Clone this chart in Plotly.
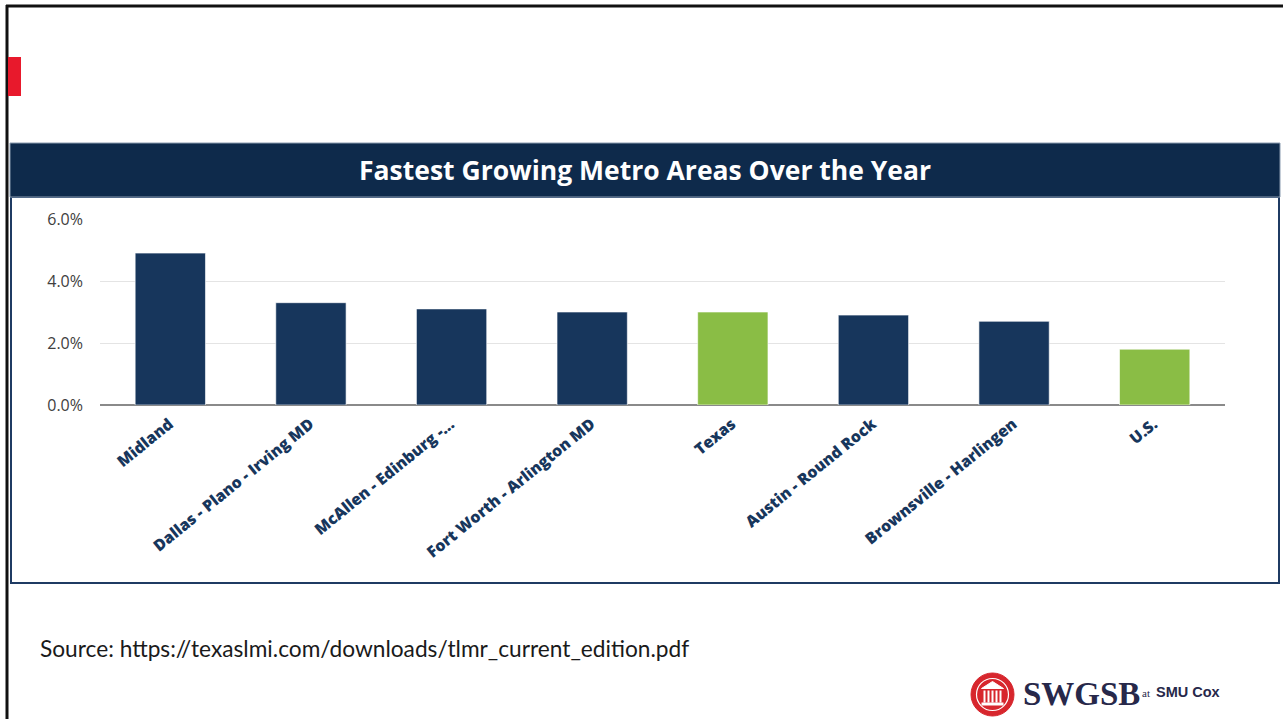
import plotly.graph_objects as go

# ---- data ----
categories = [
    "Midland",
    "Dallas - Plano - Irving MD",
    "McAllen - Edinburg -…",
    "Fort Worth - Arlington MD",
    "Texas",
    "Austin - Round Rock",
    "Brownsville - Harlingen",
    "U.S.",
]
growth_pct = [4.9, 3.3, 3.1, 3.0, 3.0, 2.9, 2.7, 1.8]
is_benchmark = [False, False, False, False, True, False, False, True]
y_tick_values = [0, 2, 4, 6]
y_tick_labels = ["0.0%", "2.0%", "4.0%", "6.0%"]
chart_title = "Fastest Growing Metro Areas Over the Year"
source_text = "Source: https://texaslmi.com/downloads/tlmr_current_edition.pdf"

NAVY = "#17365c"
GREEN = "#8abd45"
HEADER = "#0e2a4b"

W, H = 1283, 719
L, R, T, B = 100, 1225, 219, 405


def px(x):
    return (x - L) / (R - L)


def py(y):
    return (B - y) / (B - T)


bar_colors = [GREEN if b else NAVY for b in is_benchmark]

fig = go.Figure(
    go.Bar(
        x=categories,
        y=growth_pct,
        marker=dict(color=bar_colors, line=dict(color="rgba(255,255,255,0.6)", width=1)),
        width=0.5,
        hoverinfo="x+y",
    )
)

shapes = []
# slide border (top and left)
shapes.append(dict(type="line", xref="paper", yref="paper", x0=px(6), x1=px(W + 5), y0=py(6), y1=py(6),
                   line=dict(color="#111111", width=3)))
shapes.append(dict(type="line", xref="paper", yref="paper", x0=px(7), x1=px(7), y0=py(5), y1=py(H + 5),
                   line=dict(color="#111111", width=3)))
# red accent
shapes.append(dict(type="rect", xref="paper", yref="paper", x0=px(8), x1=px(21), y0=py(57), y1=py(96),
                   line=dict(width=0), fillcolor="#e8192c"))
# chart panel
shapes.append(dict(type="rect", xref="paper", yref="paper", x0=px(11), x1=px(1279), y0=py(197), y1=py(583),
                   line=dict(color="#1f3b63", width=2), fillcolor="white", layer="below"))
# header band
shapes.append(dict(type="rect", xref="paper", yref="paper", x0=px(10), x1=px(1280), y0=py(143), y1=py(197),
                   line=dict(color="#8a9bb0", width=1), fillcolor=HEADER, layer="below"))
# logo: red seal
cx, cy, r = 992.5, 694.5, 21.5
shapes.append(dict(type="circle", xref="paper", yref="paper", x0=px(cx - r), x1=px(cx + r),
                   y0=py(cy - r), y1=py(cy + r), line=dict(color="#d7262d", width=1), fillcolor="#d7262d"))
r2 = 16
shapes.append(dict(type="circle", xref="paper", yref="paper", x0=px(cx - r2), x1=px(cx + r2),
                   y0=py(cy - r2), y1=py(cy + r2), line=dict(color="white", width=1.2), fillcolor="rgba(0,0,0,0)"))
# pediment
shapes.append(dict(type="path", xref="paper", yref="paper",
                   path=f"M {px(cx-11)} {py(cy-6)} L {px(cx)} {py(cy-13)} L {px(cx+11)} {py(cy-6)} Z",
                   line=dict(color="white", width=1), fillcolor="white"))
# columns
for dx in [-8, -4, 0, 4, 8]:
    shapes.append(dict(type="rect", xref="paper", yref="paper", x0=px(cx + dx - 1), x1=px(cx + dx + 1),
                       y0=py(cy - 4), y1=py(cy + 8), line=dict(width=0), fillcolor="white"))
shapes.append(dict(type="rect", xref="paper", yref="paper", x0=px(cx - 11), x1=px(cx + 11),
                   y0=py(cy + 8), y1=py(cy + 11), line=dict(width=0), fillcolor="white"))

annotations = [
    dict(text=chart_title, xref="paper", yref="paper", x=px(645), y=py(170), showarrow=False,
         font=dict(family="Open Sans", size=26.5, color="white", weight="bold"), xanchor="center", yanchor="middle"),
    dict(text=source_text, xref="paper", yref="paper", x=px(38), y=py(648), showarrow=False,
         font=dict(family="Lato", size=22.7, color="#1a1a1a"), xanchor="left", yanchor="middle"),
    dict(text="SWGSB", xref="paper", yref="paper", x=px(1021), y=py(694), showarrow=False,
         font=dict(family="Liberation Serif", size=33, color="#27284a", weight="bold"),
         xanchor="left", yanchor="middle"),
    dict(text="at", xref="paper", yref="paper", x=px(1140), y=py(693), showarrow=False,
         font=dict(family="Liberation Serif", size=11, color="#27284a"), xanchor="left", yanchor="middle"),
    dict(text="SMU Cox", xref="paper", yref="paper", x=px(1154), y=py(692), showarrow=False,
         font=dict(family="Liberation Sans", size=14.5, color="#27284a", weight="bold"),
         xanchor="left", yanchor="middle"),
]

fig.update_layout(
    width=W,
    height=H,
    margin=dict(l=L, r=W - R, t=T, b=H - B, pad=0),
    paper_bgcolor="white",
    plot_bgcolor="rgba(0,0,0,0)",
    showlegend=False,
    shapes=shapes,
    annotations=annotations,
    bargap=0.5,
    xaxis=dict(
        tickangle=-39,
        tickfont=dict(family="Open Sans", size=15.8, color="#17365c", weight=800),
        showgrid=False,
        showline=False,
        ticks="",
        ticklabelshift=-1,
        ticklabelstandoff=6,
        fixedrange=True,
    ),
    yaxis=dict(
        range=[0, 6],
        tickvals=y_tick_values,
        ticktext=y_tick_labels,
        tickfont=dict(family="Open Sans", size=16, color="#404040"),
        showgrid=True,
        gridcolor="#e4e4e4",
        gridwidth=1,
        zeroline=True,
        zerolinecolor="#8a8a8a",
        zerolinewidth=2,
        ticks="",
        ticklabelstandoff=16,
        fixedrange=True,
    ),
)

fig.write_html(
    "out.html",
    config={"displayModeBar": False},
    post_script="document.body.style.margin='0';document.body.style.overflow='hidden';",
)
